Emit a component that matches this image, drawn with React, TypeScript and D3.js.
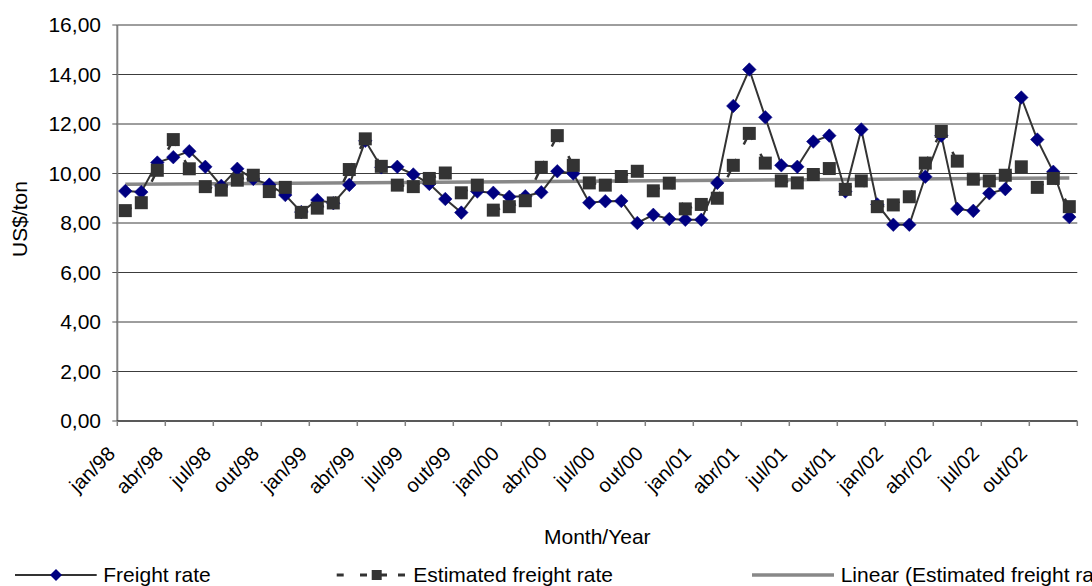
import React from 'react';
import * as d3 from 'd3';

// Monthly categories, jan/98 .. dez/02
const MONTHS = ['jan', 'fev', 'mar', 'abr', 'mai', 'jun', 'jul', 'ago', 'set', 'out', 'nov', 'dez'];
const YEARS = ['98', '99', '00', '01', '02'];
const categories = YEARS.flatMap((yy) => MONTHS.map((m) => `${m}/${yy}`));

// Observed freight rate (US$/ton)
const freightRate = [
  9.29, 9.25, 10.44, 10.66, 10.9, 10.27, 9.5, 10.19, 9.78, 9.55, 9.13, 8.44,
  8.93, 8.8, 9.54, 11.32, 10.25, 10.27, 9.96, 9.58, 8.97, 8.42, 9.27, 9.22,
  9.06, 9.08, 9.24, 10.09, 10.0, 8.82, 8.88, 8.89, 8.0, 8.33, 8.16, 8.13,
  8.13, 9.62, 12.73, 14.2, 12.27, 10.33, 10.27, 11.29, 11.53, 9.27, 11.78, 8.75,
  7.93, 7.93, 9.87, 11.53, 8.57, 8.49, 9.2, 9.37, 13.07, 11.37, 10.07, 8.24,
];

// Estimated freight rate (US$/ton)
const estimatedRate = [
  8.5, 8.82, 10.13, 11.37, 10.19, 9.47, 9.33, 9.73, 9.93, 9.27, 9.44, 8.43,
  8.6, 8.81, 10.16, 11.4, 10.29, 9.53, 9.47, 9.8, 10.02, 9.22, 9.53, 8.52,
  8.66, 8.9, 10.25, 11.53, 10.33, 9.62, 9.53, 9.88, 10.09, 9.3, 9.61, 8.57,
  8.75, 9.0, 10.33, 11.62, 10.42, 9.7, 9.62, 9.96, 10.2, 9.36, 9.7, 8.66,
  8.73, 9.06, 10.42, 11.7, 10.5, 9.77, 9.7, 9.93, 10.27, 9.44, 9.8, 8.66,
];

const yTicks = [0, 2, 4, 6, 8, 10, 12, 14, 16];

const W = 1092;
const H = 586;
const plot = { left: 117.3, right: 1077.3, top: 25, bottom: 421 };
const FONT = 'Liberation Sans, Arial, sans-serif';
const FS = 21;

export default function App() {
  const x = d3.scaleBand<string>().domain(categories).range([plot.left, plot.right]);
  const cx = (i: number) => (x(categories[i]) as number) + x.bandwidth() / 2;
  const y = d3.scaleLinear().domain([0, 16]).range([plot.bottom, plot.top]);
  const fmt = (v: number) => v.toFixed(2).replace('.', ',');

  // least-squares linear trend of the estimated series
  const idx = estimatedRate.map((_, i) => i + 1);
  const mx = d3.mean(idx) as number;
  const my = d3.mean(estimatedRate) as number;
  const slope =
    (d3.sum(idx, (v, i) => (v - mx) * (estimatedRate[i] - my)) as number) /
    (d3.sum(idx, (v) => (v - mx) * (v - mx)) as number);
  const intercept = my - slope * mx;
  const trendAt = (i: number) => intercept + slope * (i + 1);

  const freightPath = d3
    .line<number>()
    .x((_, i) => cx(i))
    .y((d) => y(d))(freightRate) as string;

  const diamond = d3.symbol().type(d3.symbolSquare).size(92)() as string;
  const square = d3.symbol().type(d3.symbolSquare).size(169)() as string;
  const squareSmall = d3.symbol().type(d3.symbolSquare).size(100)() as string;

  const labelIdx = categories.map((_, i) => i).filter((i) => i % 3 === 0);
  const tickXs = d3.range(0, categories.length + 1, 3).map((k) => plot.left + k * x.step());

  const legendY = 575;
  const legendDashes: [number, number][] = [
    [336.7, 343.7],
    [360, 367],
    [381, 387],
    [398, 405],
  ];

  return (
    <svg
      width={W}
      height={H}
      style={{ position: 'absolute', left: 0, top: 0, background: '#fff' }}
      fontFamily={FONT}
    >
      <rect x={0} y={0} width={W} height={H} fill="#fff" />

      {/* gridlines */}
      {yTicks
        .filter((t) => t > 0)
        .map((t) => (
          <line key={t} x1={plot.left} x2={plot.right} y1={y(t)} y2={y(t)} stroke="#3c3c3c" strokeWidth={1} />
        ))}

      {/* y axis */}
      <line x1={plot.left} x2={plot.left} y1={plot.top} y2={plot.bottom} stroke="#808080" strokeWidth={2} />
      {yTicks.map((t) => (
        <g key={t}>
          <line x1={plot.left - 5} x2={plot.left} y1={y(t)} y2={y(t)} stroke="#555" strokeWidth={1} />
          <text x={101} y={y(t)} dy="0.35em" textAnchor="end" fontSize={FS} fill="#000">
            {fmt(t)}
          </text>
        </g>
      ))}

      {/* x axis */}
      <line x1={plot.left} x2={plot.right} y1={plot.bottom} y2={plot.bottom} stroke="#222" strokeWidth={1.5} />
      {tickXs.map((tx, k) => (
        <line key={k} x1={tx} x2={tx} y1={plot.bottom} y2={plot.bottom + 5} stroke="#808080" strokeWidth={1.5} />
      ))}
      {labelIdx.map((i) => (
        <text
          key={i}
          transform={`translate(${cx(i) - 9},${455}) rotate(-45)`}
          textAnchor="end"
          fontSize={20}
          fill="#000"
        >
          {categories[i]}
        </text>
      ))}

      {/* axis titles */}
      <text transform={`translate(26.5,219) rotate(-90)`} textAnchor="middle" fontSize={FS} fill="#000">
        US$/ton
      </text>
      <text x={(plot.left + plot.right) / 2} y={544} textAnchor="middle" fontSize={FS} fill="#000">
        Month/Year
      </text>

      {/* linear trend of estimated rate */}
      <line
        x1={cx(0)}
        x2={cx(categories.length - 1)}
        y1={y(trendAt(0))}
        y2={y(trendAt(categories.length - 1))}
        stroke="#888"
        strokeWidth={3.5}
      />

      {/* freight rate line */}
      <path d={freightPath} fill="none" stroke="#333" strokeWidth={2} />

      {/* estimated rate dashed segments (pattern restarts at each point) */}
      {estimatedRate.slice(0, -1).map((v, i) => (
        <line
          key={i}
          x1={cx(i)}
          y1={y(v)}
          x2={cx(i + 1)}
          y2={y(estimatedRate[i + 1])}
          stroke="#333"
          strokeWidth={2.5}
          strokeDasharray="7 16.3"
        />
      ))}

      {/* freight markers */}
      {freightRate.map((v, i) => (
        <path key={i} d={diamond} transform={`translate(${cx(i)},${y(v)}) rotate(45)`} fill="#000080" stroke="#000080" strokeWidth={0.5} />
      ))}

      {/* estimated markers */}
      {estimatedRate.map((v, i) => (
        <path key={i} d={square} transform={`translate(${cx(i)},${y(v)})`} fill="#333" />
      ))}

      {/* legend */}
      <line x1={15} x2={96.7} y1={legendY} y2={legendY} stroke="#333" strokeWidth={2} />
      <path d={d3.symbol().type(d3.symbolSquare).size(72)() as string} transform={`translate(56,${legendY}) rotate(45)`} fill="#000080" />
      <text x={103.3} y={legendY} dy="0.35em" fontSize={FS} fill="#000">
        Freight rate
      </text>

      {legendDashes.map(([a, b], k) => (
        <line key={k} x1={a} x2={b} y1={legendY} y2={legendY} stroke="#333" strokeWidth={3} />
      ))}
      <path d={squareSmall} transform={`translate(376.7,${legendY})`} fill="#333" />
      <text x={413.3} y={legendY} dy="0.35em" fontSize={FS} fill="#000">
        Estimated freight rate
      </text>

      <line x1={752} x2={834} y1={legendY} y2={legendY} stroke="#888" strokeWidth={3.5} />
      <text x={840.7} y={legendY} dy="0.35em" fontSize={FS} fill="#000">
        Linear (Estimated freight rate)
      </text>
    </svg>
  );
}
